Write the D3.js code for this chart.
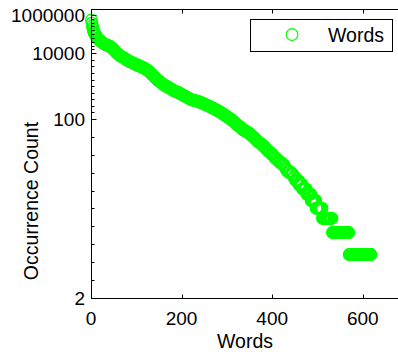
<!DOCTYPE html>
<html>
<head>
<meta charset="utf-8">
<script src="https://cdnjs.cloudflare.com/ajax/libs/d3/7.8.5/d3.min.js"></script>
<style>
  body { margin: 0; background: #fff; }
  svg { display: block; font-family: "Liberation Sans", Arial, sans-serif; }
</style>
</head>
<body>
<svg id="chart"></svg>
<script>
// word rank vs occurrence count
// top words, ranks 1..11
var headCounts = [490000, 320000, 220000, 170000, 130000, 108000, 95000, 85000, 80000, 71000, 65000];

// body, every second rank from 12 to 450
var bodyFirst = 12, bodyStep = 2;
var bodyCounts = [
  60000, 50000, 45000, 40000, 36000, 33000, 31000, 29000, 27500, 26000,
  24800, 23600, 22600, 21800, 21000, 19800, 18600, 17400, 16000, 14500,
  13200, 12000, 10800, 10000, 9300, 8600, 8000, 7500, 7250, 7000,
  6600, 6300, 5900, 5600, 5300, 5050, 4800, 4620, 4460, 4300,
  4140, 3980, 3820, 3660, 3500, 3420, 3340, 3250, 3120, 3000,
  2900, 2800, 2700, 2600, 2500, 2380, 2260, 2140, 2030, 1920,
  1770, 1630, 1510, 1420, 1330, 1240, 1150, 1070, 1010, 960,
  920, 880, 840, 795, 750, 720, 695, 670, 650, 630,
  605, 580, 560, 540, 520, 505, 490, 477, 465, 453,
  441, 430, 418, 405, 393, 380, 368, 356, 345, 335,
  325, 316, 306, 297, 288, 283, 278, 274, 269, 265,
  261, 257, 253, 250, 246, 240, 235, 229, 224, 219,
  214, 209, 205, 200, 196, 191, 186, 181, 176, 172,
  168, 164, 160, 156, 152, 148, 143, 139, 135, 131,
  127, 123, 119, 116, 112, 109, 106, 102, 99, 96,
  93, 90, 86, 83, 80, 77, 74, 72, 70, 68,
  65, 63, 61, 59, 58, 57, 56, 54, 53, 52,
  50, 48, 46, 45, 44, 42, 41, 39, 38, 37,
  36, 35, 34, 33, 32, 31, 30, 29, 28, 27,
  26, 26, 25, 24, 24, 23, 22, 21, 21, 20,
  20, 19, 19, 18, 18, 18, 17, 17, 16, 15,
  15, 14, 14, 14, 14, 13, 13, 13, 12, 12
];

// low-count tail: every rank in [first, last] has the same count
var tailCounts = [11, 10, 9, 8, 7, 6, 5, 4, 3];
var tailFirst = [452, 459, 467, 476, 486, 497, 511, 533, 570];
var tailLast = [458, 466, 475, 485, 496, 510, 532, 569, 618];

var xTicks = [0, 200, 400, 600];
var yTicks = [2, 100, 10000, 1000000];
var seriesName = 'Words';

var W = 398, H = 354;
var padL = 91, padR = 399, padT = 9, padB = 298;
var green = '#00ff00';

var svg = d3.select('#chart').attr('width', W).attr('height', H);

var points = headCounts.map(function(c, i) { return { x: i + 1, y: c }; });
bodyCounts.forEach(function(c, i) { points.push({ x: bodyFirst + i * bodyStep, y: c }); });
tailCounts.forEach(function(c, i) {
  for (var r = tailFirst[i]; r <= tailLast[i]; r++) points.push({ x: r, y: c });
});

var x = d3.scaleLinear().domain([0, 680]).range([padL, padR]);
// axis is log of ln(count)
var yl = d3.scaleLog().domain([Math.log(2), 14.71]).range([padB, padT]);
var y = function(v) { return yl(Math.log(v)); };

// markers
svg.append('g')
  .selectAll('circle')
  .data(points)
  .enter().append('circle')
  .attr('cx', function(d) { return x(d.x); })
  .attr('cy', function(d) { return y(d.y); })
  .attr('r', 5.8)
  .attr('fill', 'none')
  .attr('stroke', green)
  .attr('stroke-width', 1.2);

// axes box
var ax = svg.append('g').attr('stroke', '#000').attr('stroke-width', 1).attr('fill', 'none');
ax.append('rect')
  .attr('x', padL + 0.5).attr('y', padT + 0.5)
  .attr('width', padR - padL).attr('height', padB - padT);

// x ticks, inside, top and bottom
xTicks.forEach(function(t) {
  var px = Math.round(x(t)) + 0.5;
  ax.append('line').attr('x1', px).attr('x2', px).attr('y1', padB + 0.5).attr('y2', padB - 3.5);
  ax.append('line').attr('x1', px).attr('x2', px).attr('y1', padT + 0.5).attr('y2', padT + 4.5);
});

// y major ticks + 9 minor ticks in each interval
yTicks.forEach(function(t, i) {
  var py = Math.round(y(t)) + 0.5;
  ax.append('line').attr('x1', padL + 0.5).attr('x2', padL + 5.5).attr('y1', py).attr('y2', py);
  if (i < yTicks.length - 1) {
    var a = y(t), b = y(yTicks[i + 1]);
    for (var k = 1; k < 10; k++) {
      var my = Math.round(a + (b - a) * k / 10) + 0.5;
      ax.append('line').attr('x1', padL + 0.5).attr('x2', padL + 3.5).attr('y1', my).attr('y2', my);
    }
  }
});

// tick labels
svg.append('g').selectAll('text')
  .data(xTicks).enter().append('text')
  .attr('x', function(d) { return x(d); })
  .attr('y', 325)
  .attr('text-anchor', 'middle')
  .attr('font-size', 19)
  .text(function(d) { return d; });

svg.append('g').selectAll('text')
  .data(yTicks).enter().append('text')
  .attr('x', 85)
  .attr('y', function(d) { return y(d); })
  .attr('dy', '0.36em')
  .attr('text-anchor', 'end')
  .attr('font-size', 19)
  .text(function(d) { return d; });

// axis titles
svg.append('text')
  .attr('x', (padL + padR) / 2).attr('y', 348)
  .attr('text-anchor', 'middle').attr('font-size', 19.5)
  .text('Words');

svg.append('text')
  .attr('transform', 'translate(38,201) rotate(-90)')
  .attr('text-anchor', 'middle').attr('font-size', 19.5)
  .text('Occurrence Count');

// legend
var lg = svg.append('g');
lg.append('rect')
  .attr('x', 250.5).attr('y', 19.5).attr('width', 142).attr('height', 32)
  .attr('fill', '#fff').attr('stroke', '#000').attr('stroke-width', 1);
lg.append('circle')
  .attr('cx', 292).attr('cy', 34.5).attr('r', 5.8)
  .attr('fill', 'none').attr('stroke', green).attr('stroke-width', 1.2);
lg.append('text')
  .attr('x', 328).attr('y', 42)
  .attr('font-size', 19.5)
  .text(seriesName);
</script>
</body>
</html>
